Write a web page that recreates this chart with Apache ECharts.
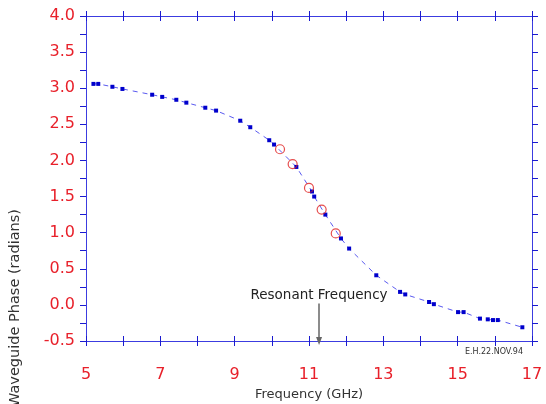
<!DOCTYPE html>
<html><head><meta charset="utf-8">
<script src="https://cdn.jsdelivr.net/npm/echarts@6/dist/echarts.min.js"></script>
<style>html,body{margin:0;padding:0;background:#fff}#c{width:546px;height:404px}</style>
</head><body><div id="c"></div>
<script>
// Computed/fit curve points (blue squares with dashed line)
var curveFreq  = [5.20,5.33,5.71,5.98,6.78,7.05,7.43,7.70,8.21,8.50,9.15,9.42,9.93,10.06,10.66,11.08,11.14,11.44,11.86,12.08,12.81,13.45,13.59,14.23,14.36,15.01,15.16,15.60,15.81,15.95,16.08,16.74];
var curvePhase = [3.06,3.06,3.02,2.99,2.91,2.88,2.84,2.80,2.73,2.69,2.55,2.46,2.28,2.22,1.91,1.57,1.50,1.25,0.92,0.78,0.41,0.18,0.145,0.04,0.01,-0.10,-0.10,-0.19,-0.20,-0.21,-0.21,-0.31];
// Measured points (red circles)
var measFreq  = [10.22,10.56,11.00,11.34,11.72];
var measPhase = [2.155,1.95,1.62,1.32,0.99];
// Annotation
var resonantFreq = 11.27;
var resonantLabel = 'Resonant Frequency';
var arrowTop = 0.02;
var xTicks = [5,7,9,11,13,15,17];
var yTicks = ['-0.5','0.0','0.5','1.0','1.5','2.0','2.5','3.0','3.5','4.0'];

var axisColor = '#3c3ce0';
var tickColor = '#1a1ad0';
var red = '#e8202a';
var font = 'DejaVu Sans';

var curveData = curveFreq.map(function(f,i){return [f,curvePhase[i]];});
var measData = measFreq.map(function(f,i){return [f,measPhase[i]];});

var chart = echarts.init(document.getElementById('c'), null, {renderer:'canvas'});
function xAx(pos, inside, labels){
  return {
    type:'value', position:pos, min:5, max:17, interval:1,
    axisLine:{show:true, onZero:false, lineStyle:{color:axisColor, width:1}},
    axisTick:{show:true, inside:inside, length:5, lineStyle:{color:tickColor, width:1}},
    axisLabel:{show:labels, margin:26, color:red, fontSize:16, fontFamily:font,
      formatter:function(v){return xTicks.indexOf(v)>=0 ? String(v) : '';}},
    splitLine:{show:false},
    name: labels ? 'Frequency (GHz)' : '',
    nameLocation:'middle', nameGap:47,
    nameTextStyle:{color:'#333', fontSize:13, fontFamily:font}
  };
}
function yAx(pos, labels){
  return {
    type:'value', position:pos, min:-0.5, max:4.0, interval:0.25,
    axisLine:{show:true, onZero:false, lineStyle:{color:axisColor, width:1}},
    axisTick:{show:true, inside:false, length:6, lineStyle:{color:tickColor, width:1}},
    axisLabel:{show:labels, margin:11, color:red, fontSize:16, fontFamily:font,
      formatter:function(v){var s=v.toFixed(1); if(s==='-0.0')s='0.0'; return yTicks.indexOf(s)>=0 && Math.abs(v*2-Math.round(v*2))<1e-6 ? s : '';}},
    splitLine:{show:false}
  };
}
chart.setOption({
  animation:false,
  backgroundColor:'#fff',
  grid:{left:86, right:14, top:16, bottom:63, containLabel:false, outerBoundsMode:'none'},
  xAxis:[xAx('bottom', true, true), xAx('bottom', false, false), xAx('top', true, false), xAx('top', false, false)],
  yAxis:[yAx('left', true), yAx('right', false)],
  graphic:[
    {type:'text', x:15, y:308, rotation:Math.PI/2,
     style:{text:'Waveguide Phase (radians)', fill:'#333', font:'14.5px DejaVu Sans', textAlign:'center', textVerticalAlign:'middle'}},
    {type:'text', x:494, y:352,
     style:{text:'E.H.22.NOV.94', fill:'#333', font:'8px DejaVu Sans', textAlign:'center', textVerticalAlign:'middle'}}
  ],
  series:[
    {type:'line', data:curveData, xAxisIndex:0, yAxisIndex:0,
     symbol:'rect', symbolSize:4, showAllSymbol:true,
     itemStyle:{color:'#0000cc'},
     lineStyle:{color:'#5a5af0', width:1, type:[5,5]},
     markLine:{silent:true, symbol:['none','triangle'], symbolSize:[6,8],
       label:{show:true, position:'start', formatter:resonantLabel, color:'#222', fontSize:13.5, fontFamily:font, distance:1},
       lineStyle:{color:'#666', width:1.5, type:'solid'},
       itemStyle:{color:'#111'},
       data:[[{coord:[resonantFreq, arrowTop]},{coord:[resonantFreq,-0.5]}]]}
    },
    {type:'scatter', data:measData, xAxisIndex:0, yAxisIndex:0,
     symbol:'circle', symbolSize:9, z:5,
     itemStyle:{color:'rgba(0,0,0,0)', borderColor:'#e02020', borderWidth:1.2}}
  ]
});
</script></body></html>
